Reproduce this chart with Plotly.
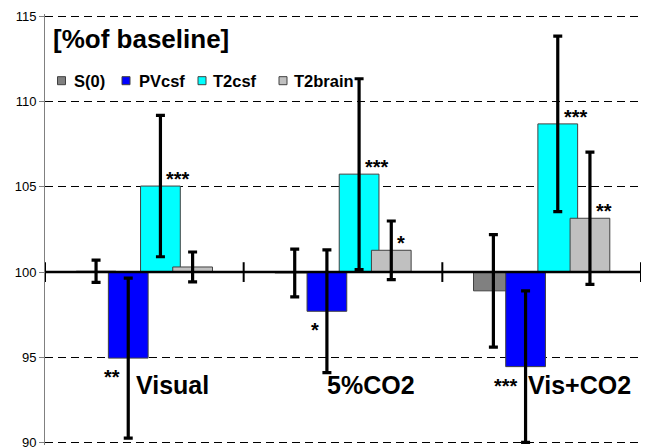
import plotly.graph_objects as go

# ---------------- data ----------------
categories = ["Visual", "5%CO2", "Vis+CO2"]
series_names = ["S(0)", "PVcsf", "T2csf", "T2brain"]

s0_values = [100.05, 99.95, 98.9]
s0_errors = [0.65, 1.4, 3.3]
s0_sig = ["", "", ""]

pvcsf_values = [94.95, 97.7, 94.45]
pvcsf_errors = [4.7, 3.6, 4.45]
pvcsf_sig = ["**", "*", "***"]

t2csf_values = [105.05, 105.75, 108.7]
t2csf_errors = [4.15, 5.6, 5.15]
t2csf_sig = ["***", "***", "***"]

t2brain_values = [100.3, 101.28, 103.16]
t2brain_errors = [0.88, 1.72, 3.88]
t2brain_sig = ["", "*", "**"]

baseline = 100
y_ticks = [90, 95, 100, 105, 110, 115]

# ---------------- style / layout ----------------
colors = ["#808080", "#0000FF", "#00FFFF", "#C0C0C0"]
bar_width = 0.2
bar_step = 0.162
label_dx = [0.14, 0.14, 0.19]
FONT = "Liberation Sans, Arial, sans-serif"
W, H = 645, 447
y_pad = 0.15
ML, MR, MT, MB = 45, 4, 17 - y_pad * 17, 5 - y_pad * 17
# legend layout (pixel positions of swatches / texts)
leg_swatch_px = [57.5, 122, 198, 279]
leg_text_px = [72, 137, 211, 292]
leg_y_px = 81
leg_sw = 8

series = [
    (s0_values, s0_errors, s0_sig),
    (pvcsf_values, pvcsf_errors, pvcsf_sig),
    (t2csf_values, t2csf_errors, t2csf_sig),
    (t2brain_values, t2brain_errors, t2brain_sig),
]

pw, ph = W - ML - MR, H - MT - MB
def px2x(px):
    return (px - ML) / pw
def py2y(py):
    return 1 - (py - MT) / ph

xpos = list(range(len(categories)))
n = len(series)

fig = go.Figure()
annotations = []
shapes = []
for k, (name, (vals, errs, sig), col) in enumerate(zip(series_names, series, colors)):
    center_off = (k - (n - 1) / 2) * bar_step
    fig.add_trace(go.Bar(
        name=name,
        x=xpos,
        y=[v - baseline for v in vals],
        base=baseline,
        width=bar_width,
        offset=center_off - bar_width / 2,
        marker=dict(color=col, line=dict(color="#404040", width=1)),
        error_y=dict(type="data", array=errs, visible=True,
                     color="black", thickness=3.2, width=4.5),
        showlegend=False,
    ))
    for i, (v, s) in enumerate(zip(vals, sig)):
        if not s:
            continue
        if v < baseline:
            annotations.append(dict(
                x=xpos[i] + center_off, y=v, xref="x", yref="y",
                text="<b>" + s + "</b>", showarrow=False, xanchor="right", yanchor="top",
                xshift=-6, yshift=-6,
                font=dict(family=FONT, size=20, color="black")))
        else:
            annotations.append(dict(
                x=xpos[i] + center_off, y=v, xref="x", yref="y",
                text="<b>" + s + "</b>", showarrow=False, xanchor="left", yanchor="bottom",
                xshift=4, yshift=-6,
                font=dict(family=FONT, size=20, color="black")))
    # legend entry
    shapes.append(dict(type="rect", xref="paper", yref="paper",
                       x0=px2x(leg_swatch_px[k]), x1=px2x(leg_swatch_px[k] + leg_sw),
                       y0=py2y(leg_y_px + leg_sw / 2), y1=py2y(leg_y_px - leg_sw / 2),
                       fillcolor=col, line=dict(color="#404040", width=1)))
    annotations.append(dict(x=px2x(leg_text_px[k]), y=py2y(leg_y_px), xref="paper", yref="paper",
                            text="<b>" + name + "</b>", showarrow=False,
                            xanchor="left", yanchor="middle",
                            font=dict(family=FONT, size=16.5, color="black")))

# category labels
for i, c in enumerate(categories):
    annotations.append(dict(
        x=xpos[i] + label_dx[i], y=93.4, xref="x", yref="y", text="<b>" + c + "</b>",
        showarrow=False, xanchor="center", yanchor="middle",
        font=dict(family=FONT, size=25, color="black")))

# title
annotations.append(dict(
    x=px2x(51), y=py2y(22), xref="paper", yref="paper", text="<b>[%of baseline]</b>",
    showarrow=False, xanchor="left", yanchor="top",
    font=dict(family=FONT, size=26, color="black")))

xmin, xmax = -0.5, len(categories) - 0.5
shapes.append(dict(type="line", xref="x", yref="y", x0=xmin, x1=xmax,
                   y0=baseline, y1=baseline, line=dict(color="black", width=2.5),
                   layer="above"))
for j in range(len(categories) + 1):
    xb = xmin + j
    shapes.append(dict(type="line", xref="x", yref="y", x0=xb, x1=xb,
                       y0=baseline - 0.58, y1=baseline + 0.58,
                       line=dict(color="black", width=2), layer="above"))

fig.update_layout(
    width=W, height=H,
    margin=dict(l=ML, r=MR, t=MT, b=MB),
    paper_bgcolor="white", plot_bgcolor="white",
    barmode="overlay",
    showlegend=False,
    annotations=annotations,
    shapes=shapes,
    font=dict(family=FONT),
)
fig.update_xaxes(range=[xmin, xmax], visible=False, showgrid=False, zeroline=False,
                 automargin=False)
fig.update_yaxes(range=[min(y_ticks) - y_pad, max(y_ticks) + y_pad],
                 tickvals=y_ticks, ticktext=[str(t) for t in y_ticks],
                 showline=True, linecolor="#808080", linewidth=1,
                 ticks="outside", ticklen=5, tickcolor="#808080",
                 showgrid=True, gridcolor="black", gridwidth=1, griddash="8px,5px",
                 zeroline=False, ticklabeloverflow="allow", automargin=False,
                 tickfont=dict(family=FONT, size=13, color="black"))

fig.write_html("out.html", config={"displayModeBar": False},
               post_script="document.body.style.margin='0px';document.body.style.overflow='hidden';")
